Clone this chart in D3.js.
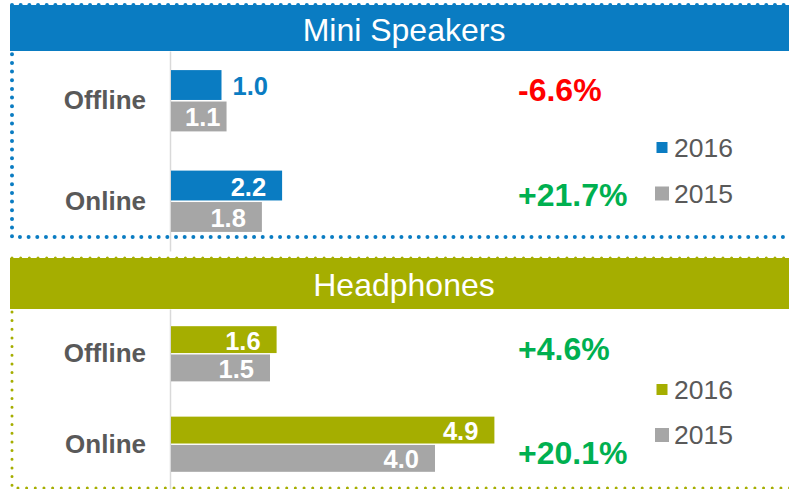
<!DOCTYPE html>
<html>
<head>
<meta charset="utf-8">
<script src="https://cdn.jsdelivr.net/npm/d3@7"></script>
<style>
    body { margin: 0; background: #ffffff; }
    svg { display: block; font-family: Arial, "Liberation Sans", sans-serif; }
</style>
</head>
<body>
<div id="chart"></div>
<script>
// data
const categories = ["Offline", "Online"];
const years = ["2016", "2015"];
const panelTitles = ["Mini Speakers", "Headphones"];

const speakerValues2016 = [1.0, 2.2];
const speakerValues2015 = [1.1, 1.8];
const speakerChanges = ["-6.6%", "+21.7%"];

const headphoneValues2016 = [1.6, 4.9];
const headphoneValues2015 = [1.5, 4.0];
const headphoneChanges = ["+4.6%", "+20.1%"];

const width = 789, height = 489;
const grey = "#A6A6A6", labelGrey = "#595959";

// layout per panel
const panels = [
    {
        title: panelTitles[0], color: "#0A7CC2",
        values: {"2016": speakerValues2016, "2015": speakerValues2015},
        changes: speakerChanges,
        top: 5, headerBottom: 51, bottom: 237, axisBottom: 251,
        unitPx: 50.5, dot: 4, titleBase: 41,
        changeDy: [0, 4.5], legendY: [147.5, 193.5]
    },
    {
        title: panelTitles[1], color: "#A5AE00",
        values: {"2016": headphoneValues2016, "2015": headphoneValues2015},
        changes: headphoneChanges,
        top: 258, headerBottom: 309, bottom: 488, axisBottom: 489,
        unitPx: 66, dot: 3, titleBase: 296,
        changeDy: [6, 20], legendY: [389.5, 435]
    }
];

const axisX = 170;
const legendSizes = {"2016": 11, "2015": 14};

const svg = d3.select("#chart")
    .append("svg")
    .attr("width", width)
    .attr("height", height);

panels.forEach((p) => {
    const g = svg.append("g");
    const yearColor = {"2016": p.color, "2015": grey};

    // dotted frame, header drawn over its top edge
    g.append("rect")
        .attr("x", 12)
        .attr("y", p.top)
        .attr("width", 820)
        .attr("height", p.bottom - p.top)
        .attr("fill", "none")
        .attr("stroke", p.color)
        .attr("stroke-width", p.dot)
        .attr("stroke-linecap", "round")
        .attr("stroke-dasharray", "0 8.67");

    g.append("rect")
        .attr("x", 10)
        .attr("y", p.top)
        .attr("width", 800)
        .attr("height", p.headerBottom - p.top)
        .attr("fill", p.color);

    g.append("text")
        .attr("x", 404)
        .attr("y", p.titleBase)
        .attr("text-anchor", "middle")
        .attr("fill", "#ffffff")
        .attr("font-size", 32)
        .text(p.title);

    // scales
    const y = d3.scaleBand()
        .domain(categories)
        .range([p.headerBottom, p.axisBottom])
        .paddingInner(0.39)
        .paddingOuter(0.19);

    const yInner = d3.scaleBand()
        .domain(years)
        .range([0, y.bandwidth()])
        .paddingInner(0.05);

    const x = d3.scaleLinear()
        .domain([0, 5])
        .range([0, 5 * p.unitPx]);

    // category axis
    const yAxis = d3.axisLeft(y).tickSize(0).tickSizeOuter(0).tickPadding(24);
    const axisG = g.append("g")
        .attr("transform", "translate(" + axisX + ",0)")
        .call(yAxis);
    axisG.select(".domain")
        .attr("stroke", "#D9D9D9")
        .attr("stroke-width", 1.5);
    axisG.selectAll(".tick text")
        .attr("font-family", "Arial, 'Liberation Sans', sans-serif")
        .attr("font-size", 26)
        .attr("font-weight", "bold")
        .attr("fill", labelGrey);

    // bars
    const rows = [];
    categories.forEach((c, i) => {
        years.forEach((yr) => rows.push({cat: c, year: yr, value: p.values[yr][i]}));
    });

    const barG = g.append("g").attr("transform", "translate(" + (axisX + 1) + ",0)");

    barG.selectAll("rect")
        .data(rows)
        .join("rect")
        .attr("x", 0)
        .attr("y", (d) => y(d.cat) + yInner(d.year))
        .attr("width", (d) => x(d.value))
        .attr("height", yInner.bandwidth())
        .attr("fill", (d) => yearColor[d.year]);

    barG.selectAll("text")
        .data(rows)
        .join("text")
        .each(function(d) {
            const w = x(d.value);
            const outside = w < 52;
            const pad = w < 70 ? 6 : 16;
            d3.select(this)
                .attr("x", outside ? w + 11 : w - pad)
                .attr("text-anchor", outside ? "start" : "end")
                .attr("fill", outside ? yearColor[d.year] : "#ffffff");
        })
        .attr("y", (d) => y(d.cat) + yInner(d.year) + yInner.bandwidth() / 2 + 10)
        .attr("font-size", 25.5)
        .attr("font-weight", "bold")
        .text((d) => d3.format(".1f")(d.value));

    // change labels
    g.selectAll(".change")
        .data(p.changes)
        .join("text")
        .attr("class", "change")
        .attr("x", 518)
        .attr("y", (d, i) => y(categories[i]) + y.bandwidth() / 2 + p.changeDy[i])
        .attr("font-size", 32)
        .attr("font-weight", "bold")
        .attr("fill", (d) => d.startsWith("-") ? "#FF0000" : "#00B050")
        .text((d) => d);

    // legend
    const leg = g.selectAll(".legend")
        .data(years)
        .join("g")
        .attr("class", "legend")
        .attr("transform", (d, i) => "translate(0," + p.legendY[i] + ")");

    leg.append("rect")
        .attr("x", (d) => 662 - legendSizes[d] / 2)
        .attr("y", (d) => -legendSizes[d] / 2)
        .attr("width", (d) => legendSizes[d])
        .attr("height", (d) => legendSizes[d])
        .attr("fill", (d) => yearColor[d]);

    leg.append("text")
        .attr("x", 674)
        .attr("y", 9)
        .attr("font-size", 26.5)
        .attr("fill", labelGrey)
        .text((d) => d);
});
</script>
</body>
</html>
